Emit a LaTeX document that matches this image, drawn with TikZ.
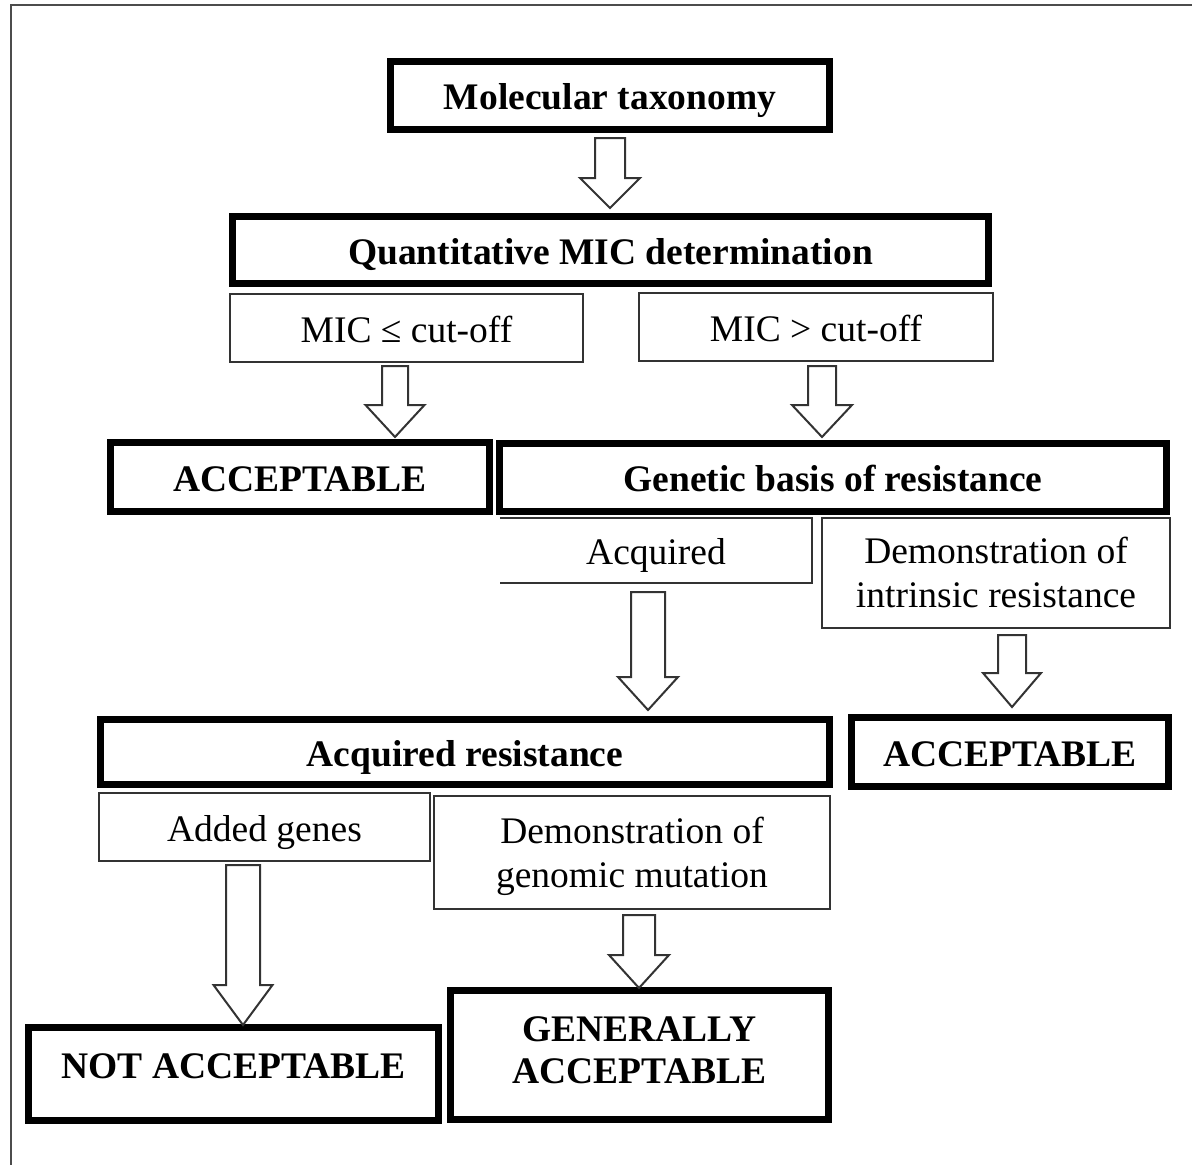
\documentclass[tikz,border=0pt]{standalone}
\usepackage{fontspec}
\setmainfont{Liberation Serif}
\newcommand\blockarrow[6]{% x, top, headstart, tip, shafthalf, headhalf
  \draw[hollowarrow] (#1-#5,#2) -- (#1+#5,#2) -- (#1+#5,#3) -- (#1+#6,#3) -- (#1,#4) -- (#1-#6,#3) -- (#1-#5,#3) -- cycle;}
\tikzset{
  txt/.style={font=\fontsize{37.5}{44}\selectfont, align=center, inner sep=0pt, text height=32pt, text depth=4pt},
  twolines/.style={text height=69.5pt, text depth=0pt},
  boldbox/.style={txt, draw=black, line width=7pt, font=\fontsize{37.5}{44}\selectfont\bfseries},
  thinbox/.style={txt, draw=black!80, line width=2pt},
  hollowarrow/.style={draw=black!80, line width=2pt, line join=miter, fill=white},
  frame/.style={draw=black!70, line width=2pt}
}
\begin{document}
\begin{tikzpicture}[x=1pt,y=-1pt]
\useasboundingbox (0,0) rectangle (1192,1165);
\draw[frame] (11,1165) -- (11,5) -- (1192,5);

% boxes
\node[boldbox, minimum width=439pt, minimum height=68pt] (mol) at (610,95.5) {Molecular taxonomy};
\node[boldbox, minimum width=756pt, minimum height=67pt] (quant) at (610.5,250) {Quantitative MIC determination};
\node[thinbox, minimum width=353pt, minimum height=68pt] (micle) at (406.5,328) {MIC ≤ cut-off};
\node[thinbox, minimum width=354pt, minimum height=68pt] (micgt) at (816,327) {MIC > cut-off};
\node[boldbox, minimum width=379pt, minimum height=69pt] (acc1) at (300,477) {ACCEPTABLE};
\node[boldbox, minimum width=667pt, minimum height=68pt] (gen) at (833,477.5) {Genetic basis of resistance};
\node[txt, minimum width=312pt, minimum height=65pt] (acq) at (656,550.5) {Acquired};
\draw[draw=black!80, line width=2pt] (acq.north west) -- (acq.north east) -- (acq.south east) -- (acq.south west);
\node[thinbox, twolines, minimum width=348pt, minimum height=110pt] (intr) at (996,573) {Demonstration of\\intrinsic resistance};
\node[boldbox, minimum width=729pt, minimum height=65pt] (acqres) at (465,752) {Acquired resistance};
\node[boldbox, minimum width=317pt, minimum height=69pt] (acc2) at (1010,752) {ACCEPTABLE};
\node[thinbox, minimum width=331pt, minimum height=68pt] (added) at (264.5,827) {Added genes};
\node[thinbox, twolines, minimum width=396pt, minimum height=113pt] (genom) at (632,852.5) {Demonstration of\\genomic mutation};
\node[boldbox, minimum width=410pt, minimum height=93pt] (notacc) at (233.5,1074) {\raisebox{10pt}{NOT ACCEPTABLE}};
\node[boldbox, minimum width=378pt, minimum height=129pt, font=\fontsize{37.5}{42}\selectfont\bfseries, text height=66.8pt, text depth=10.8pt] (genacc) at (639.5,1055) {GENERALLY\\ACCEPTABLE};

% block arrows
\blockarrow{610}{138}{178}{208}{15}{30}
\blockarrow{395}{366}{405}{437}{13}{29.5}
\blockarrow{822}{366}{405}{437}{14}{30}
\blockarrow{648}{592}{677}{710}{17}{30}
\blockarrow{1012}{635}{673}{707}{14}{29}
\blockarrow{243}{865}{985}{1025}{17}{29.5}
\blockarrow{639}{915}{955}{988}{16}{30}
\end{tikzpicture}
\end{document}
